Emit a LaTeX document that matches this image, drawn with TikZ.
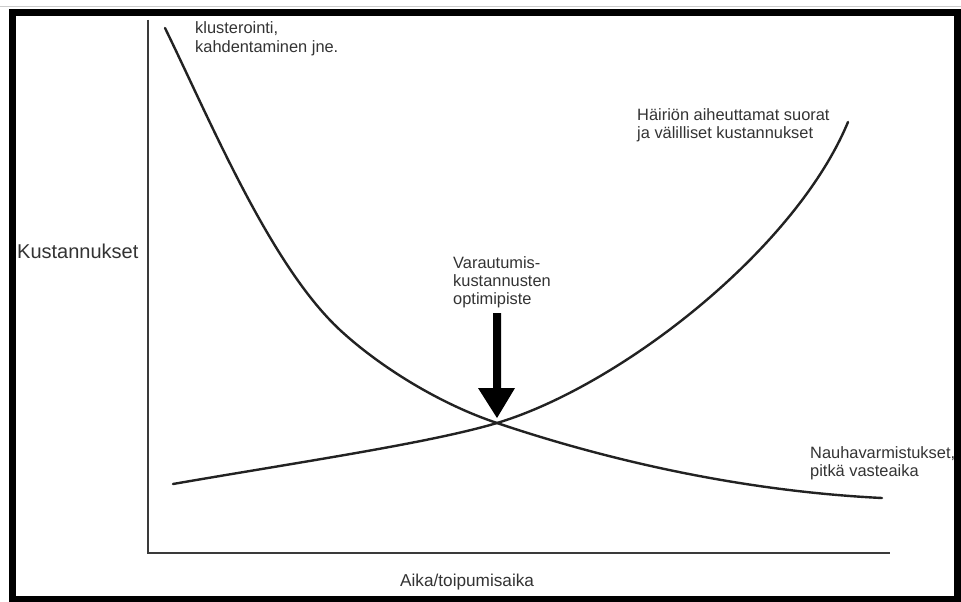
\documentclass[tikz,border=0pt]{standalone}
\usepackage{fontspec}
\setmainfont{Liberation Sans}
\definecolor{ink}{HTML}{222222}
\definecolor{txt}{HTML}{333333}
\definecolor{axis}{HTML}{3A3A3A}
\tikzset{
  lbl/.style={anchor=base west, inner sep=0pt, text=txt,
    font=\fontsize{16.4}{19}\selectfont},
  midlbl/.style={lbl, font=\fontsize{17.2}{20}\selectfont},
  biglbl/.style={lbl, font=\fontsize{20}{22}\selectfont},
  curve/.style={draw=ink, line width=2.4pt, line cap=round, line join=round},
  axisline/.style={draw=axis, line width=2.4pt},
}
\begin{document}
\begin{tikzpicture}[x=1pt, y=-1pt]
  \useasboundingbox (0,0) rectangle (961,602);
  \fill[white] (0,0) rectangle (961,602);

  % outer frame
  \draw[gray!40, line width=1pt] (0,6.5) -- (961,6.5);
  \draw[black, line width=7pt] (12,12.5) rectangle (957.5,599.5);

  % axes
  \coordinate (ytop) at (148,20);
  \coordinate (orig) at (148,553);
  \coordinate (xend) at (890,553);
  \draw[axisline] (ytop) -- (orig) -- (xend);

  % crossing point of the two cost curves
  \coordinate (opt) at (497,423);

  % falling cost curve
  \coordinate (fa) at (165,28);
  \coordinate (fb) at (340,330);
  \coordinate (fc) at (882,498);
  \draw[curve] (fa) .. controls (210,120) and (270,265) .. (fb)
                    .. controls (380,367) and (440,404) .. (opt)
                    .. controls (580,451) and (720,490) .. (fc);

  % rising cost curve
  \coordinate (ra) at (173,484);
  \coordinate (rc) at (848,122);
  \draw[curve] (ra) .. controls (300,462) and (430,443) .. (opt)
                    .. controls (620,386) and (795,250) .. (rc);

  % optimum arrow
  \coordinate (tip) at (497,418);
  \fill[black] (493,313) -- (501,313) -- (501,388) -- (515,388)
    -- (tip) -- (478,388) -- (493,388) -- cycle;

  % labels
  \node[biglbl] (ylab) at (17,258) {Kustannukset};
  \node[midlbl] (xlab) at (400,586) {Aika/toipumisaika};

  \node[lbl] (k1) at (195,34) {klusterointi,};
  \node[lbl] (k2) at (195,52.5) {kahdentaminen jne.};

  \node[lbl] (h1) at (637,120) {Häiriön aiheuttamat suorat};
  \node[lbl] (h2) at (637,138) {ja välilliset kustannukset};

  \node[lbl] (v1) at (453,268) {Varautumis-};
  \node[lbl] (v2) at (453,286) {kustannusten};
  \node[lbl] (v3) at (453,304) {optimipiste};

  \node[lbl] (n1) at (810,458) {Nauhavarmistukset,};
  \node[lbl] (n2) at (810,476) {pitkä vasteaika};
\end{tikzpicture}
\end{document}
